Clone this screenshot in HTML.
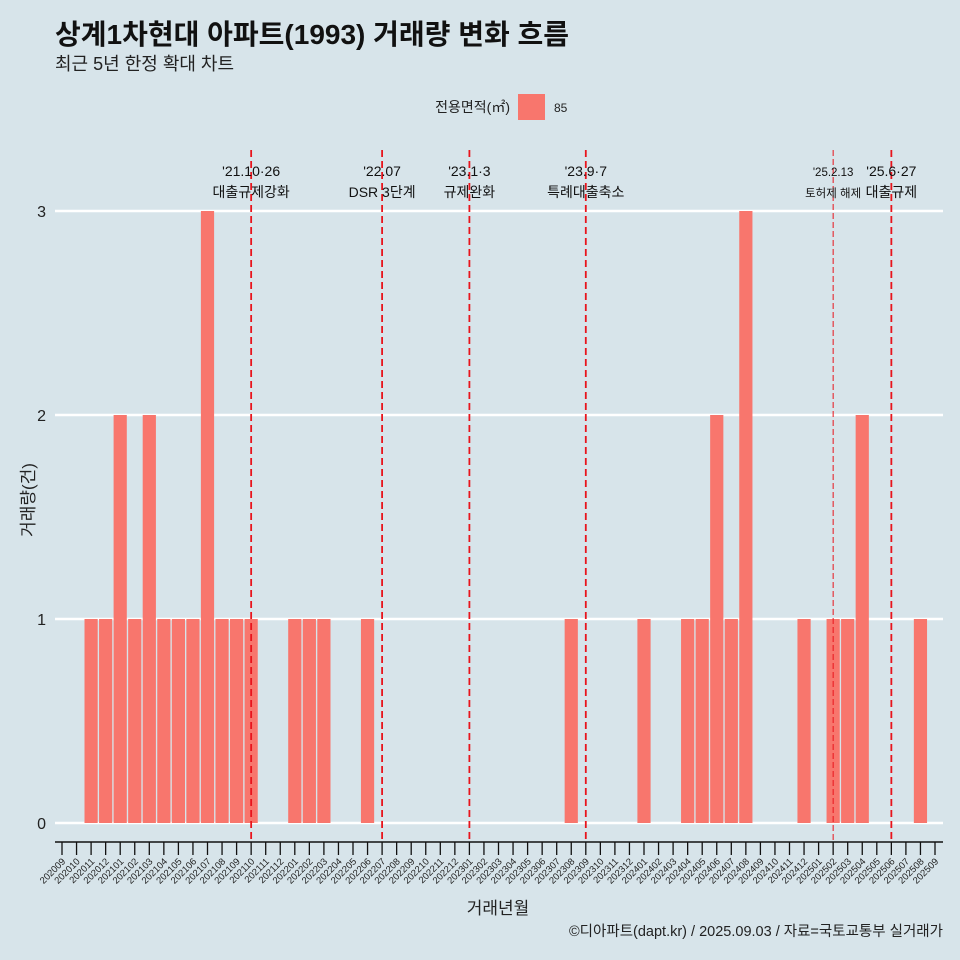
<!DOCTYPE html>
<html><head><meta charset="utf-8"><style>
body{margin:0;background:#d7e4ea;overflow:hidden;}
svg{display:block;}
svg text{font-family:"Liberation Sans","Noto Sans CJK KR",sans-serif;}
</style></head><body>
<svg id="c" width="960" height="960">
<rect width="960" height="960" fill="#d7e4ea"/>
<text x="55" y="44" font-size="28" font-weight="bold" fill="#111">상계1차현대 아파트(1993) 거래량 변화 흐름</text>
<text x="55" y="70" font-size="18" fill="#222">최근 5년 한정 확대 차트</text>
<g>
<text x="510" y="112" font-size="14" text-anchor="end" fill="#222">전용면적(㎡)</text>
<rect x="518" y="94" width="27" height="26" fill="#f8766d"/>
<text x="554" y="112" font-size="12" fill="#222">85</text>
</g>
<text transform="translate(34,500) rotate(-90)" font-size="17" text-anchor="middle" fill="#222">거래량(건)</text>
<text x="498" y="914" font-size="17" text-anchor="middle" fill="#222">거래년월</text>
<text x="943" y="936" font-size="14.5" text-anchor="end" fill="#222">©디아파트(dapt.kr) / 2025.09.03 / 자료=국토교통부 실거래가</text>
<g id="grid"></g><g id="bars"></g><g id="axis"></g><g id="ev"></g>
</svg>
<script>
const months=[];for(let y=2020,m=9;months.length<61;){months.push(''+y+(m<10?'0':'')+m);m++;if(m>12){m=1;y++;}}
const counts=[0,0,1,1,2,1,2,1,1,1,3,1,1,1,0,0,1,1,1,0,0,1,0,0,0,0,0,0,0,0,0,0,0,0,0,1,0,0,0,0,1,0,0,1,1,2,1,3,0,0,0,1,0,1,1,2,0,0,0,1,0];
const yTicks=[0,1,2,3];
const eventMonths=['202110','202207','202301','202309','202502','202506'];
const eventDates=["'21.10·26","'22.07","'23.1·3","'23.9·7","'25.2.13","'25.6·27"];
const eventNames=["대출규제강화","DSR 3단계","규제완화","특례대출축소","토허제 해제","대출규제"];
const NS='http://www.w3.org/2000/svg';
const xs=i=>62+14.55*i, ys=v=>823-204*v;
function mk(t,a,p){const e=document.createElementNS(NS,t);for(const k in a)e.setAttribute(k,a[k]);document.getElementById(p).appendChild(e);return e;}
yTicks.forEach(v=>{
 let l=mk('line',{x1:55,x2:943,y1:ys(v),y2:ys(v),stroke:'#fff','stroke-width':2.5},'grid');
 
 
 let t=mk('text',{x:46,y:ys(v)+6,'font-size':16,'text-anchor':'end',fill:'#222'},'grid');t.textContent=v;
 
 
});
counts.forEach((v,i)=>{if(!v)return;
 let r=mk('rect',{x:xs(i)-6.6,y:ys(v),width:13.2,height:823-ys(v),fill:'#f8766d'},'bars');
 
 
});
let ax=mk('line',{x1:55,x2:943,y1:842,y2:842,stroke:'#111','stroke-width':1.5},'axis');


months.forEach((m,i)=>{
 let tk=mk('line',{x1:xs(i),x2:xs(i),y1:842,y2:855,stroke:'#111','stroke-width':1.3},'axis');
 
 
 let t=mk('text',{'font-size':9.5,'text-anchor':'end',fill:'#222',transform:`translate(${xs(i)+4},862) rotate(-45)`},'axis');t.textContent=m;
 
 
});
eventMonths.forEach((m,k)=>{const i=months.indexOf(m),x=xs(i);const thin=m==='202502';
 let l=mk('line',{x1:x,x2:x,y1:150,y2:842,stroke:'#e8141c','stroke-width':thin?1:1.8,'stroke-dasharray':thin?'6,3':'7,4'},'ev');
 
 
 const fs=thin?11.5:14;
 let a=mk('text',{x:x,y:176,'font-size':fs,'text-anchor':'middle',fill:'#111'},'ev');a.textContent=eventDates[k];
 
 
 let b=mk('text',{x:x,y:197,'font-size':fs,'text-anchor':'middle',fill:'#111'},'ev');b.textContent=eventNames[k];
 
 
});
</script>
</body></html>
